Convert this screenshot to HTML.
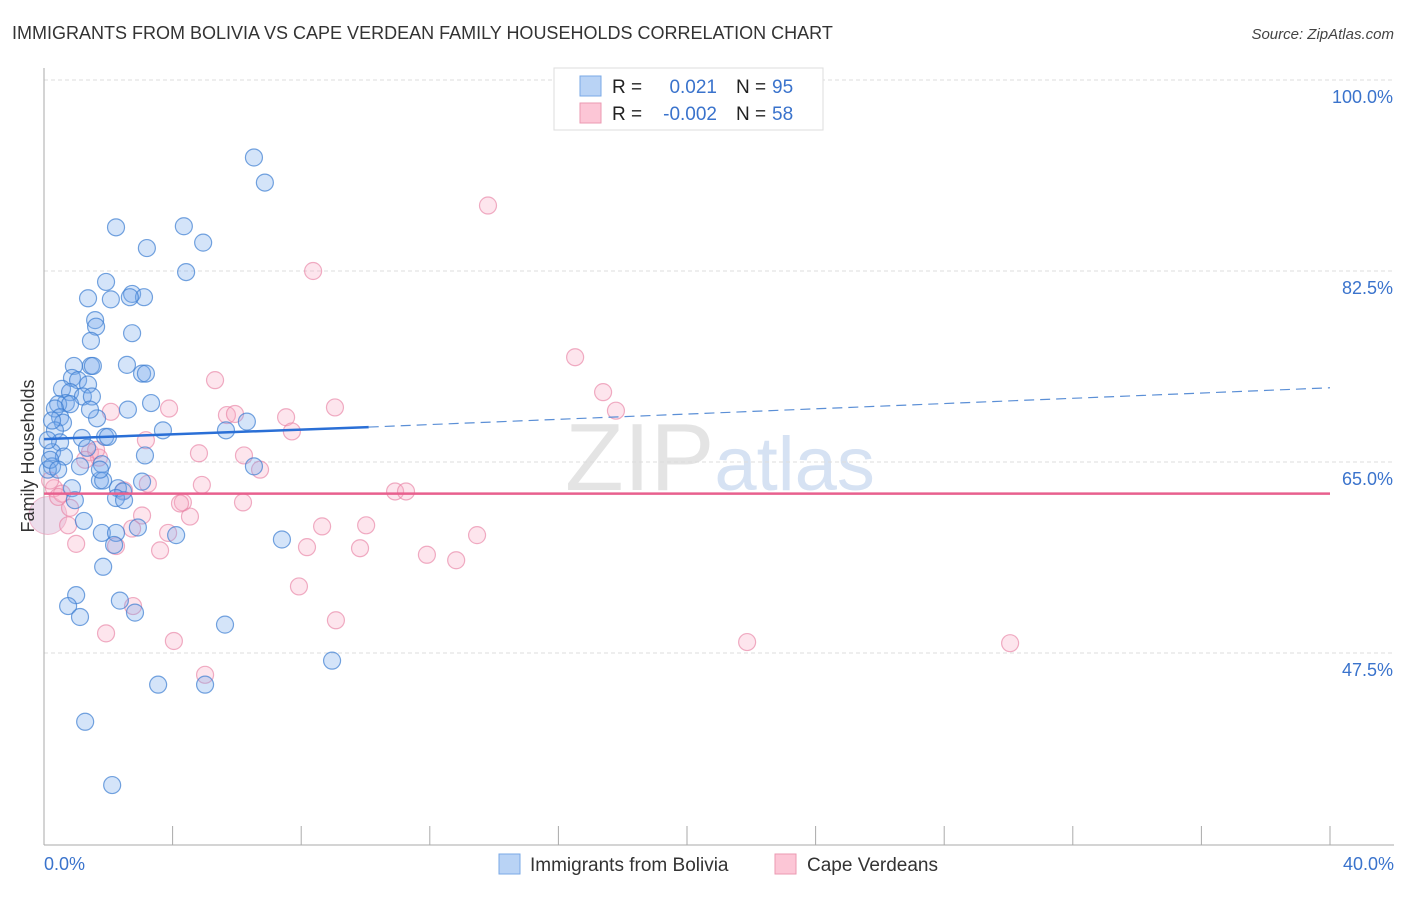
<!DOCTYPE html>
<html><head><meta charset="utf-8">
<style>
body{margin:0;background:#fff;font-family:"Liberation Sans",sans-serif;}
svg text{font-family:"Liberation Sans",sans-serif;}
</style></head>
<body>
<svg id="chart" width="1406" height="892" xmlns="http://www.w3.org/2000/svg">
<text x="12" y="39" font-size="18" fill="#333">IMMIGRANTS FROM BOLIVIA VS CAPE VERDEAN FAMILY HOUSEHOLDS CORRELATION CHART</text>
<text x="1394" y="39" font-size="15" fill="#444" text-anchor="end" font-style="italic">Source: ZipAtlas.com</text>
<text x="720" y="490" font-size="96" fill="#e4e4e4" text-anchor="middle" font-family="Liberation Serif">ZIP<tspan fill="#d6e2f3" font-family="Liberation Sans" font-size="76">atlas</tspan></text>
<g id="grid"></g>
<g id="axes"></g>
<g id="pinkPts"></g>
<g id="bluePts"></g>
<g id="trends"></g>
<text transform="translate(34,456) rotate(-90)" font-size="18" fill="#333" text-anchor="middle">Family Households</text>
<g>
<rect x="554" y="68" width="269" height="62" fill="#fff" stroke="#ddd"/>
<rect x="580" y="76" width="21" height="20" fill="#b9d3f5" stroke="#7aa8e6"/>
<rect x="580" y="103" width="21" height="20" fill="#fcc6d6" stroke="#eb99b2"/>
<text x="612" y="93" font-size="19" fill="#222">R =</text>
<text x="717" y="93" font-size="19" fill="#3a73cc" text-anchor="end">0.021</text>
<text x="736" y="93" font-size="19" fill="#222">N =</text>
<text x="772" y="93" font-size="19" fill="#3a73cc">95</text>
<text x="612" y="120" font-size="19" fill="#222">R =</text>
<text x="717" y="120" font-size="19" fill="#3a73cc" text-anchor="end">-0.002</text>
<text x="736" y="120" font-size="19" fill="#222">N =</text>
<text x="772" y="120" font-size="19" fill="#3a73cc">58</text>
</g>
<g>
<rect x="499" y="854" width="21" height="20" fill="#b9d3f5" stroke="#7aa8e6"/>
<text x="530" y="871" font-size="19" fill="#333">Immigrants from Bolivia</text>
<rect x="775" y="854" width="21" height="20" fill="#fcc6d6" stroke="#eb99b2"/>
<text x="807" y="871" font-size="19" fill="#333">Cape Verdeans</text>
</g>
</svg>
<script>
const yTicks=[100,82.5,65,47.5];
const yTickLabels=["100.0%","82.5%","65.0%","47.5%"];
const xEndLabels=["0.0%","40.0%"];
const blueX=[6.53,6.87,2.24,4.35,3.20,4.95,4.42,1.93,1.37,2.08,2.74,3.11,2.67,1.59,1.62,2.74,1.46,0.93,1.46,1.52,2.58,3.05,3.17,0.87,0.56,1.06,1.37,0.81,1.21,1.49,0.68,0.44,0.81,0.34,0.50,0.59,3.33,2.61,1.65,0.34,3.70,5.66,6.31,1.18,1.90,1.99,0.50,1.34,0.25,0.62,3.14,1.80,1.12,0.25,0.12,6.53,1.74,1.84,3.05,0.87,2.30,2.46,2.24,2.49,1.24,2.92,1.80,2.24,4.11,7.40,2.18,1.84,1.00,2.36,0.75,1.12,2.83,5.63,8.96,3.55,5.01,1.28,2.12,0.19,0.12,0.25,0.44,1.43,1.74,0.96];
const blueY=[92.9,90.6,86.5,86.6,84.6,85.1,82.4,81.5,80.0,79.9,80.4,80.1,80.1,78.0,77.4,76.8,76.1,73.8,73.8,73.8,73.9,73.1,73.1,72.7,71.7,72.5,72.1,71.4,71.0,71.0,70.4,70.3,70.3,69.9,69.1,68.6,70.4,69.8,69.0,67.9,67.9,67.9,68.7,67.2,67.3,67.3,66.8,66.3,65.9,65.5,65.6,64.8,64.6,64.6,64.3,64.6,63.3,63.3,63.2,62.6,62.6,62.3,61.7,61.5,59.6,59.0,58.5,58.5,58.3,57.9,57.4,55.4,52.8,52.3,51.8,50.8,51.2,50.1,46.8,44.6,44.6,41.2,35.4,65.2,67.0,68.8,64.3,69.8,64.3,61.5];
const pinkX=[13.81,8.37,16.52,17.39,17.79,5.32,9.05,3.89,2.08,5.69,5.94,7.53,7.71,3.17,4.82,1.43,1.71,1.62,3.23,4.91,6.72,4.32,6.19,10.92,11.26,0.31,0.56,0.81,0.44,3.05,4.54,3.86,8.65,10.02,13.47,0.75,2.74,1.00,2.24,3.61,8.18,9.83,11.91,12.82,7.93,2.77,9.08,1.93,4.04,5.01,21.87,30.05,0.19,1.28,2.49,4.23,6.22];
const pinkY=[88.5,82.5,74.6,71.4,69.7,72.5,70.0,69.9,69.6,69.3,69.4,69.1,67.8,67.0,65.8,65.9,65.4,66.1,63.0,62.9,64.3,61.3,61.3,62.3,62.3,62.6,62.1,60.8,61.8,60.1,60.0,58.5,59.1,59.2,58.3,59.2,58.9,57.5,57.3,56.9,57.2,57.1,56.5,56.0,53.6,51.8,50.5,49.3,48.6,45.5,48.5,48.4,63.3,65.2,62.4,61.2,65.6];
const bigPinkX=[0.12], bigPinkY=[60.1];
const blueTrend=[[0,67.1],[10.1,68.2],[40,71.8]];
const pinkTrend=[[0,62.1],[40,62.1]];
const X0=44,X1=1330;
const sx=v=>X0+(v/40)*(X1-X0);
const sy=v=>80+(100-v)*(191/17.5);
const NS="http://www.w3.org/2000/svg";
function mk(tag,attrs,parent){const e=document.createElementNS(NS,tag);for(const k in attrs)e.setAttribute(k,attrs[k]);parent.appendChild(e);return e;}
const grid=document.getElementById('grid'),axes=document.getElementById('axes');
yTicks.forEach((t,i)=>{
 const g=mk('line',{x1:44,x2:1394,y1:sy(t),y2:sy(t),stroke:'#ddd','stroke-dasharray':'4,3'},grid);
 
 
 const tx=mk('text',{x:1393,y:sy(t)+23,'font-size':18,fill:'#3a73cc','text-anchor':'end'},axes);
 tx.textContent=yTickLabels[i];
 
 
});
const ya=mk('line',{x1:44,x2:44,y1:68,y2:845,stroke:'#aaa'},axes);


const xa=mk('line',{x1:44,x2:1394,y1:845,y2:845,stroke:'#aaa'},axes);


for(let i=0;i<=10;i++){
 const tk=mk('line',{x1:sx(i*4),x2:sx(i*4),y1:826,y2:845,stroke:'#aaa'},axes);
 
 
}
const l0=mk('text',{x:44,y:870,'font-size':18,fill:'#3a73cc'},axes);l0.textContent=xEndLabels[0];


const l1=mk('text',{x:1394,y:870,'font-size':18,fill:'#3a73cc','text-anchor':'end'},axes);l1.textContent=xEndLabels[1];


const pg=document.getElementById('pinkPts'),bg=document.getElementById('bluePts');
bigPinkX.forEach((v,i)=>{const c=mk('circle',{cx:sx(v),cy:sy(bigPinkY[i]),r:19,fill:'rgba(200,160,200,0.35)',stroke:'rgba(235,150,180,0.6)'},pg);
 
 });
pinkX.forEach((v,i)=>{const c=mk('circle',{cx:sx(v),cy:sy(pinkY[i]),r:8.5,fill:'rgba(248,170,195,0.3)',stroke:'rgba(232,130,165,0.65)','stroke-width':1.2},pg);
 
 });
blueX.forEach((v,i)=>{const c=mk('circle',{cx:sx(v),cy:sy(blueY[i]),r:8.5,fill:'rgba(120,170,235,0.32)',stroke:'rgba(60,125,210,0.7)','stroke-width':1.2},bg);
 
 });
const tr=document.getElementById('trends');
const b1=mk('line',{x1:sx(blueTrend[0][0]),y1:sy(blueTrend[0][1]),x2:sx(blueTrend[1][0]),y2:sy(blueTrend[1][1]),stroke:'#2a6fd6','stroke-width':2.5},tr);


const b2=mk('line',{x1:sx(blueTrend[1][0]),y1:sy(blueTrend[1][1]),x2:sx(blueTrend[2][0]),y2:sy(blueTrend[2][1]),stroke:'#5b8fd6','stroke-width':1.2,'stroke-dasharray':'10,6'},tr);


const p1=mk('line',{x1:sx(pinkTrend[0][0]),y1:sy(pinkTrend[0][1]),x2:sx(pinkTrend[1][0]),y2:sy(pinkTrend[1][1]),stroke:'#e8608e','stroke-width':2.5},tr);


</script>
</body></html>
